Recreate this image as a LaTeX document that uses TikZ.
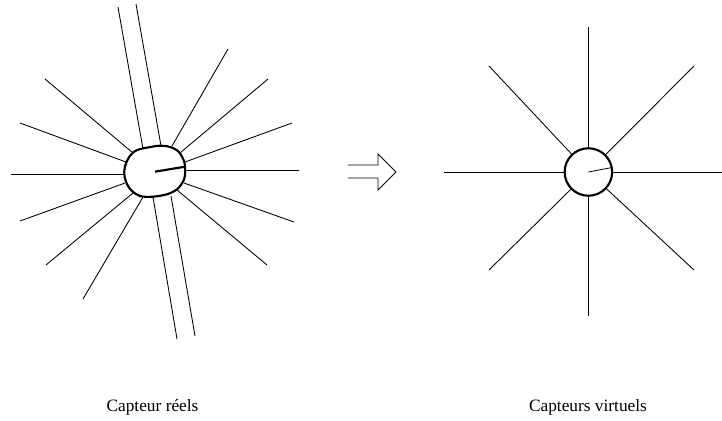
\documentclass[tikz,border=0pt]{standalone}
\usepackage{fontspec}
\setmainfont{Liberation Serif}
\tikzset{
  thinline/.style={line width=0.65pt,black},
  thickline/.style={line width=1.6pt,black,line join=round},
  lbl/.style={font=\fontsize{13pt}{15pt}\selectfont,inner sep=0pt,anchor=base}
}
\begin{document}
\begin{tikzpicture}[x=0.75pt,y=-0.75pt]
\useasboundingbox (0,0) rectangle (722,421);
% left: real sensors
\foreach \a/\b/\c/\d in {
118/7/143/149, 136/4/161/146, 228/49/172/146, 268/79/180/153, 292/123/185/162, 299/170/186/170,
45/79/133/153, 20/123/126/162, 11/174/124/174, 20/221/125/183, 46/265/133/193, 83/299/143/197,
153/197/177/339, 171/196/195/336, 267/265/177/190, 294/222/184/183}
  {\draw[thinline] (\a,\b) -- (\c,\d);}
\draw[thickline] (133,152.5) .. controls (136,150) and (140,149) .. (143.3,148.3) -- (156,146)
  .. controls (166,145) and (175,147) .. (180,153.3)
  .. controls (183,158) and (185,162) .. (185,167)
  .. controls (185.5,174) and (185,178) .. (183,181.7)
  .. controls (180.5,186) and (178,189) .. (175,190.7)
  .. controls (168,195) and (160,196) .. (153,196.7)
  .. controls (148,197) and (144,197) .. (140,196)
  .. controls (134,193.5) and (130,190) .. (127.5,185)
  .. controls (125,180) and (124,176) .. (124.3,171)
  .. controls (124.5,165) and (128,157) .. (133,152.5);
\draw[thickline] (155,171.7) -- (185,166.7);
% arrow
\draw[thinline] (348,165) -- (378,165) -- (378,154) -- (396,172) -- (378,190) -- (378,178) -- (348,178);
% right: virtual sensors
\node[circle,draw,line width=1.6pt,minimum size=47.5*0.75pt,inner sep=0pt] (c) at (588.4,172) {};
\coordinate (w) at (444,172);
\coordinate (n) at (588.4,27);
\coordinate (e) at (733,172);
\coordinate (s) at (588.4,316);
\coordinate (nw) at (489,66);
\coordinate (ne) at (694,66);
\coordinate (sw) at (489,270);
\coordinate (se) at (694,270);
\foreach \t in {w,n,e,s,nw,ne,sw,se} \draw[thinline] (\t) -- (c);
\draw[line width=0.6pt] (c.center) -- (611,167.7);
\node[lbl] (t1) at (152.5,411) {Capteur réels};
\node[lbl] (t2) at (588,411) {Capteurs virtuels};
\end{tikzpicture}
\end{document}
